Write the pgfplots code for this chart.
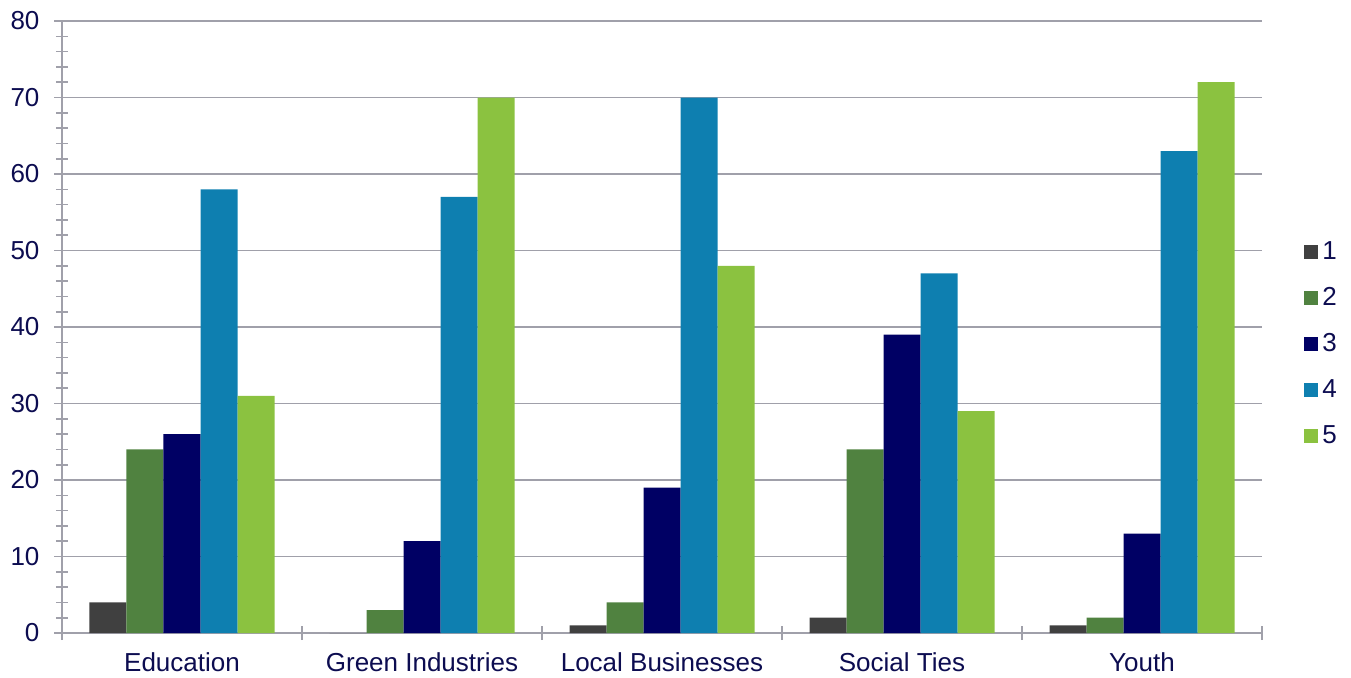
\documentclass[border=0pt]{standalone}
\usepackage{fontspec}
\setmainfont{Liberation Sans}
\usepackage{pgfplots}
\pgfplotsset{compat=1.18}
\definecolor{cOne}{RGB}{64,64,64}
\definecolor{cTwo}{RGB}{80,130,64}
\definecolor{cThree}{RGB}{0,0,100}
\definecolor{cFour}{RGB}{14,127,176}
\definecolor{cFive}{RGB}{139,194,64}
\definecolor{txt}{RGB}{12,12,80}
\definecolor{gridc}{RGB}{160,160,170}
% small square legend keys instead of the default bar pictogram
\pgfplotsset{/pgfplots/ybar legend/.style={
    /pgfplots/legend image code/.code={\fill[##1] (0pt,-3.5pt) rectangle (7pt,3.5pt);}}}
\begin{document}
\begin{tikzpicture}
\useasboundingbox (0,0) rectangle (675.5pt,338.5pt);
\begin{axis}[
    at={(31pt,22pt)}, anchor=south west,
    scale only axis,
    width=600pt, height=306pt,
    ybar=0pt, bar width=18.5pt,
    xmin=-0.5, xmax=4.5,
    ymin=0, ymax=80,
    xtick={0,1,2,3,4},
    xticklabels={Education, Green Industries, Local Businesses, Social Ties, Youth},
    major x tick style={draw=none},
    extra x ticks={-0.5,0.5,1.5,2.5,3.5,4.5},
    extra x tick labels={},
    extra x tick style={major tick length=7pt, xmajorgrids=false,
        major x tick style={draw=gridc, line width=0.8pt}},
    ytick={0,10,...,80},
    minor y tick num=4,
    ymajorgrids=true,
    grid style={draw=gridc, line width=0.8pt},
    axis x line*=bottom, axis y line*=left,
    axis line style={draw=gridc, line width=0.8pt, -},
    tick align=center,
    major tick length=7.5pt, minor tick length=6pt,
    y tick style={draw=gridc, line width=0.8pt},
    every tick label/.append style={font=\fontsize{13}{15}\selectfont, text=txt},
    /pgf/number format/assume math mode=true,
    yticklabel style={xshift=-4pt},
    xticklabel style={yshift=-4.8pt, inner sep=1pt},
    legend style={draw=none, fill=none, at={(1.030,0.472)}, anchor=west,
        font=\fontsize{13}{15}\selectfont, text=txt, row sep=8.5pt},
    legend cell align=left,
]
\addplot[fill=cOne, draw=none] coordinates {(0,4) (1,0) (2,1) (3,2) (4,1)};
\addplot[fill=cTwo, draw=none] coordinates {(0,24) (1,3) (2,4) (3,24) (4,2)};
\addplot[fill=cThree, draw=none] coordinates {(0,26) (1,12) (2,19) (3,39) (4,13)};
\addplot[fill=cFour, draw=none] coordinates {(0,58) (1,57) (2,70) (3,47) (4,63)};
\addplot[fill=cFive, draw=none] coordinates {(0,31) (1,70) (2,48) (3,29) (4,72)};
\legend{1,2,3,4,5}
\end{axis}
\end{tikzpicture}
\end{document}
